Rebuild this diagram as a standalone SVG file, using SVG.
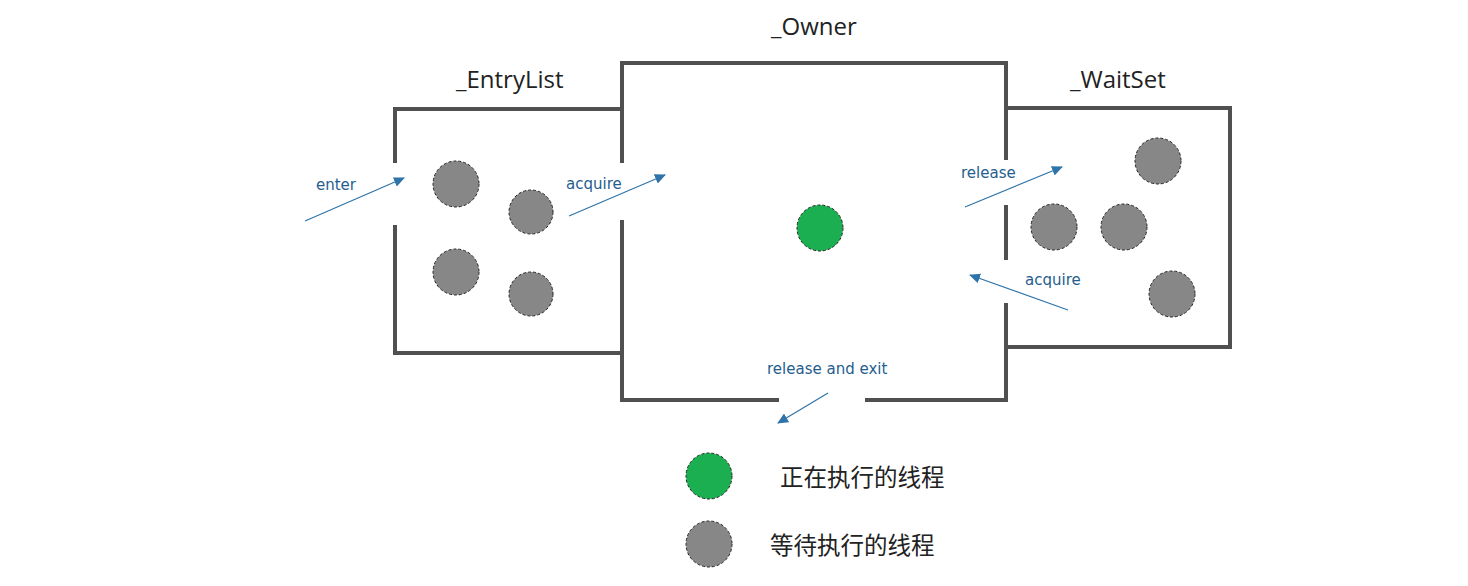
<svg xmlns="http://www.w3.org/2000/svg" width="1468" height="586" viewBox="0 0 1468 586">
<style>
.wall{fill:none;stroke:#505050;stroke-width:4;stroke-linecap:square;stroke-linejoin:miter}
.wait{fill:#878787;stroke:#222;stroke-width:1;stroke-dasharray:3 2}
.run{fill:#1caf52;stroke:#222;stroke-width:1;stroke-dasharray:3 2}
.title{font-family:"Open Sans","DejaVu Sans",sans-serif;font-size:24px;fill:#222}
.lbl{font-family:"DejaVu Sans",sans-serif;font-size:15px;fill:#255e8e}
.arr{stroke:#2f74a8;stroke-width:1.2;fill:none;marker-end:url(#ah)}
.cjk{font-family:"Noto Sans CJK SC",sans-serif;font-size:23.5px;fill:#222}
</style>
<defs>
<marker id="ah" markerWidth="12" markerHeight="10" refX="10" refY="5" orient="auto" markerUnits="userSpaceOnUse">
<path d="M0,0 L11,5 L0,10 Z" fill="#2f74a8"/>
</marker>
</defs>
<rect width="1468" height="586" fill="#fff"/>
<g id="entrylist">
<path class="wall" d="M395,161 V109 H620 M395,227 V353 H620"/>
<text class="title" x="456" y="88">_EntryList</text>
<circle class="wait" cx="456" cy="184" r="23"/>
<circle class="wait" cx="531" cy="212" r="22"/>
<circle class="wait" cx="456" cy="272" r="23"/>
<circle class="wait" cx="531" cy="294" r="22"/>
</g>
<g id="owner">
<path class="wall" d="M622,161 V63 H1006 V158 M1006,207 V258 M1006,305 V400 H867 M777,400 H622 V222"/>
<text class="title" x="771" y="35">_Owner</text>
<circle class="run" cx="820" cy="228" r="23"/>
</g>
<g id="waitset">
<path class="wall" d="M1006,108 H1230 V347 H1006"/>
<text class="title" x="1070" y="88">_WaitSet</text>
<circle class="wait" cx="1158" cy="161" r="23"/>
<circle class="wait" cx="1054" cy="227" r="23"/>
<circle class="wait" cx="1124" cy="227" r="23"/>
<circle class="wait" cx="1172" cy="294" r="23"/>
</g>
<g id="connectors">
<line class="arr" x1="305" y1="221" x2="404" y2="178"/>
<line class="arr" x1="569" y1="216" x2="665" y2="175"/>
<line class="arr" x1="965" y1="207" x2="1062" y2="167"/>
<line class="arr" x1="1068" y1="310" x2="970" y2="275"/>
<line class="arr" x1="828" y1="393" x2="778" y2="423"/>
<text class="lbl" x="316" y="190">enter</text>
<text class="lbl" x="566" y="189">acquire</text>
<text class="lbl" x="961" y="178">release</text>
<text class="lbl" x="1025" y="285">acquire</text>
<text class="lbl" x="767" y="374">release and exit</text>
</g>
<g id="legend">
<circle class="run" cx="709" cy="476" r="23"/>
<text class="cjk" x="780" y="486">正在执行的线程</text>
<circle class="wait" cx="709" cy="544" r="23"/>
<text class="cjk" x="770" y="554">等待执行的线程</text>
</g>
</svg>
